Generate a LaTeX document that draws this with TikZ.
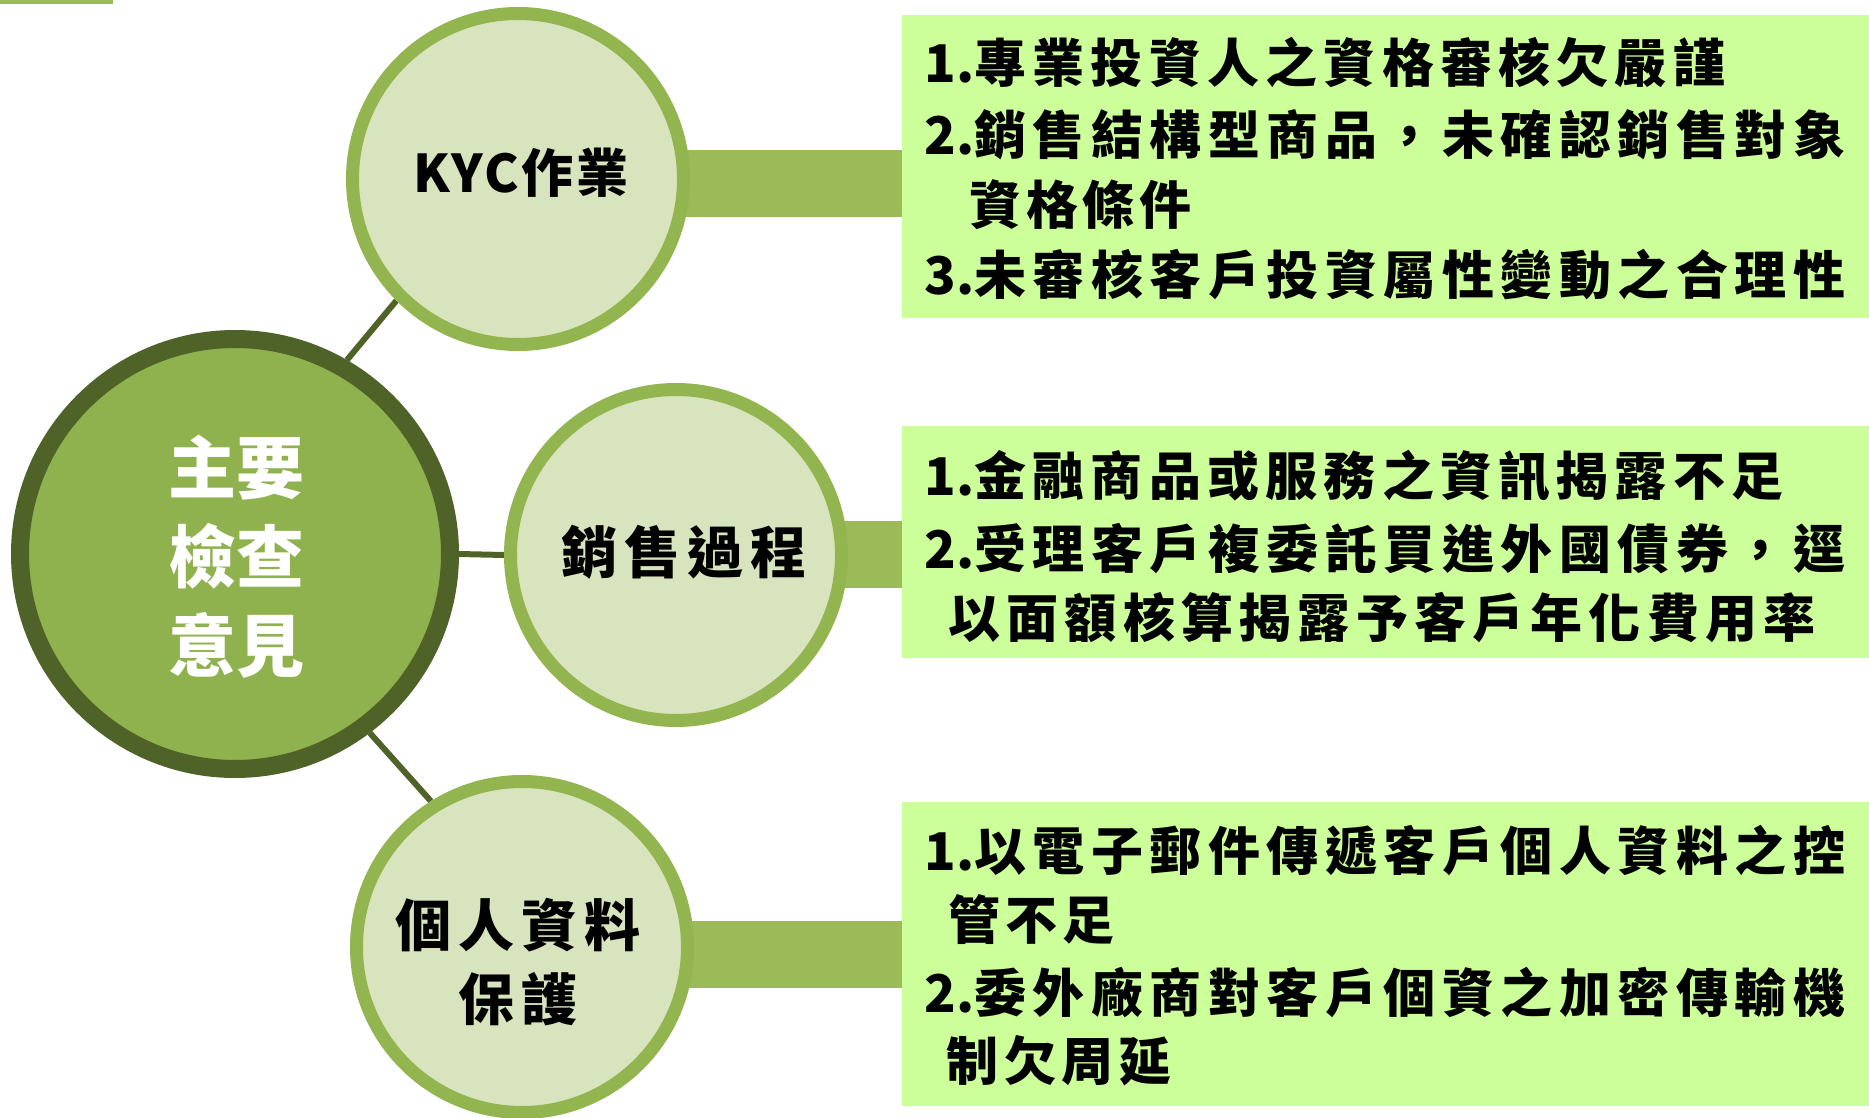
\documentclass[tikz,border=0pt]{standalone}
\usepackage{fontspec}
\newfontfamily\cjk{Noto Sans CJK TC}
\usetikzlibrary{backgrounds}
\definecolor{mainfill}{HTML}{8FB24E}
\definecolor{maindark}{HTML}{4F6228}
\definecolor{subfill}{HTML}{D7E4BD}
\definecolor{subline}{HTML}{92B550}
\definecolor{barcol}{HTML}{9BBB59}
\definecolor{boxcol}{HTML}{CCFF99}
\newcommand\lsp[2]{{\addfontfeatures{LetterSpace=#1}#2}}
\tikzset{
  mainc/.style={circle, fill=mainfill, draw=maindark, line width=9pt, minimum size=215pt, inner sep=0pt},
  subc/.style={circle, fill=subfill, draw=subline, line width=6.5pt, minimum size=165.5pt, inner sep=0pt},
  link/.style={draw=maindark, line width=3pt},
  barline/.style={draw=barcol, line width=33.5pt},
  panel/.style={fill=boxcol, anchor=north west, inner sep=0pt, minimum width=483.5pt},
  ln/.style={anchor=west, inner sep=0pt, text height=22.9pt, text depth=3.1pt, font=\cjk\bfseries\fontsize{26pt}{26pt}\selectfont},
  bigtxt/.style={inner sep=0pt, align=center, font=\cjk\bfseries\fontsize{34pt}{44.5pt}\selectfont, text=white},
  midtxt/.style={inner sep=0pt, align=center, font=\cjk\bfseries\fontsize{28pt}{37pt}\selectfont},
  kyctxt/.style={inner sep=0pt, font=\cjk\bfseries\fontsize{26pt}{26pt}\selectfont}
}
\begin{document}
\begin{tikzpicture}[x=0.5pt, y=-0.5pt]
\useasboundingbox (0,0) rectangle (1869,1118);
\fill[barcol] (0,0) rectangle (113,4);

% boxes
\node[panel, minimum height=151.5pt] (box1) at (902,15) {};
\node[panel, minimum height=116pt] (box2) at (902,426) {};
\node[panel, minimum height=152pt] (box3) at (902,802) {};

% circles
\node[mainc] (main) at (235,554) {};
\node[subc] (kyc) at (518,179) {};
\node[subc] (sales) at (676,555) {};
\node[subc] (pers) at (522,947) {};

\begin{scope}[on background layer]
  \draw[link] (main.60) -- (kyc.225);
  \draw[link] (main.east) -- (sales.west);
  \draw[link] (main.-53) -- (pers.122);
  \draw[barline] (kyc.center |- 0,183.5) -- (box1.west |- 0,183.5);
  \draw[barline] (sales.center |- 0,554.5) -- (box2.west |- 0,554.5);
  \draw[barline] (pers.center |- 0,954.5) -- (box3.west |- 0,954.5);
\end{scope}

% circle labels
\node[bigtxt] (mainlbl) at (236,557) {主要\\檢查\\意見};
\node[kyctxt] (kyclbl) at (521,173) {\lsp{5}{KYC作業}};
\node[midtxt] (saleslbl) at (684,552) {\lsp{12}{銷售過程}};
\node[midtxt] (perslbl) at (518,962) {\lsp{12}{個人資料}\\\lsp{12}{保護}};

% box 1 text
\node[ln] (a1) at (924,63) {1.\lsp{12}{專業投資人之資格審核欠嚴謹}};
\node[ln] (a2) at (924,135) {2.\lsp{12.5}{銷售結構型商品，未確認銷售對象}};
\node[ln] (a3) at (969,205) {\lsp{9}{資格條件}};
\node[ln] (a4) at (924,275) {3.\lsp{12.5}{未審核客戶投資屬性變動之合理性}};

% box 2 text
\node[ln] (b1) at (924,476) {1.\lsp{12}{金融商品或服務之資訊揭露不足}};
\node[ln] (b2) at (924,549) {2.\lsp{12.5}{受理客戶複委託買進外國債券，逕}};
\node[ln] (b3) at (948,618) {\lsp{12}{以面額核算揭露予客戶年化費用率}};

% box 3 text
\node[ln] (c1) at (924,851) {1.\lsp{12.5}{以電子郵件傳遞客戶個人資料之控}};
\node[ln] (c2) at (948,920) {\lsp{10}{管不足}};
\node[ln] (c3) at (924,993) {2.\lsp{12.5}{委外廠商對客戶個資之加密傳輸機}};
\node[ln] (c4) at (946,1061) {\lsp{11}{制欠周延}};
\end{tikzpicture}
\end{document}
